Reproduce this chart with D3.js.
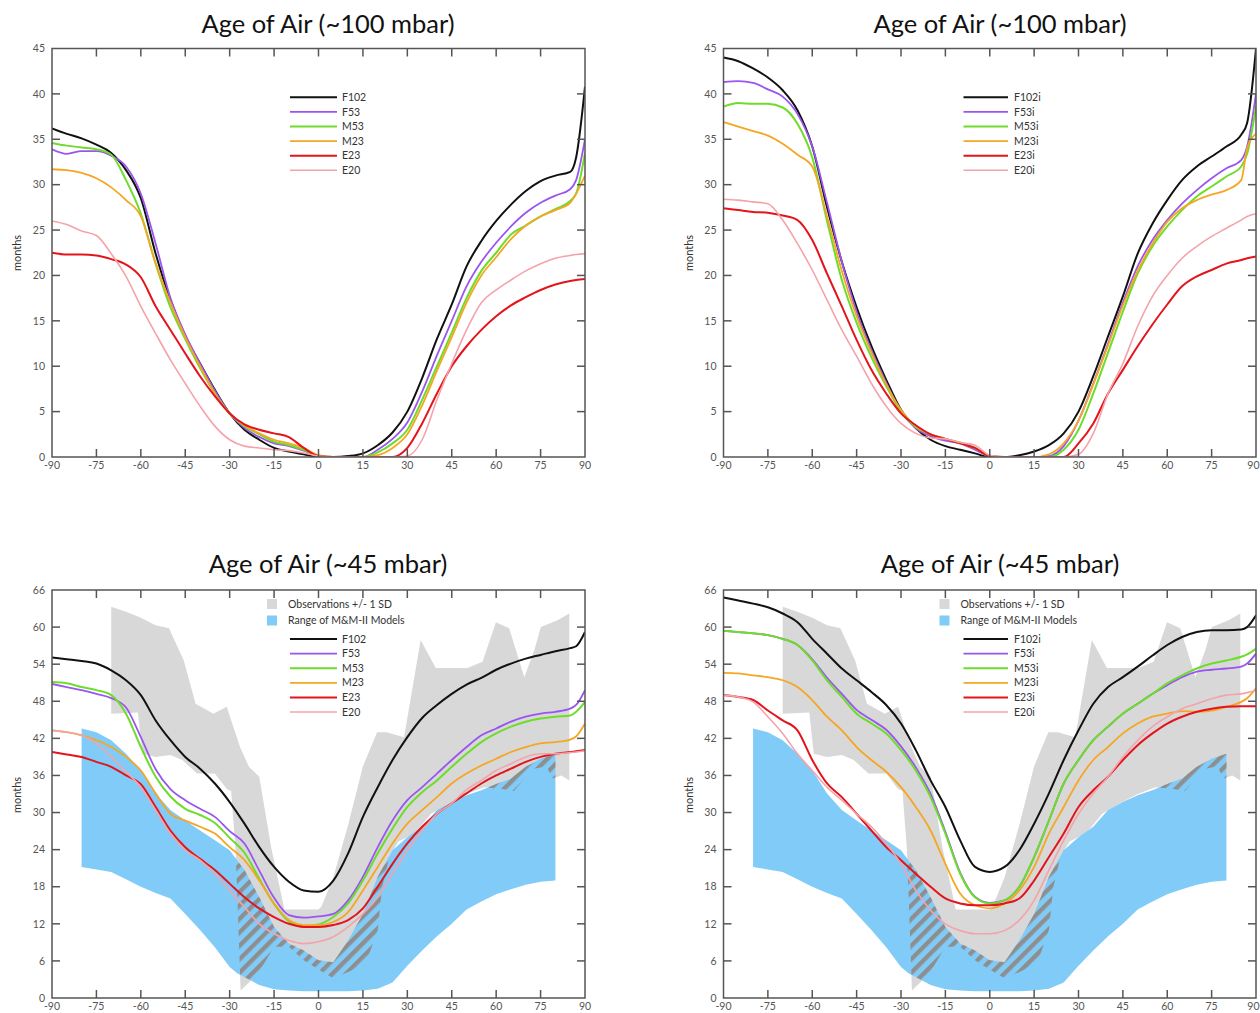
<!DOCTYPE html>
<html><head><meta charset="utf-8">
<script src="https://cdn.jsdelivr.net/npm/d3@7"></script>
<style>body{margin:0;background:#fff} svg{display:block}</style>
</head><body>
<svg id="c" width="1260" height="1013"></svg>
<script>
// ---------- DATA ----------
const lats = [-90,-85,-80,-75,-70,-65,-60,-55,-50,-45,-40,-35,-30,-25,-20,-15,-10,-5,0,5,10,15,20,25,30,35,40,45,50,55,60,65,70,75,80,85,87,90];
const xTicks = [-90,-75,-60,-45,-30,-15,0,15,30,45,60,75,90];
const yTicks100 = [0,5,10,15,20,25,30,35,40,45];
const yTicks45 = [0,6,12,18,24,30,36,42,48,54,60,66];

const namesA = ["F102","F53","M53","M23","E23","E20"];
const namesB = ["F102i","F53i","M53i","M23i","E23i","E20i"];
const titles = ["Age of Air (~100 mbar)","Age of Air (~100 mbar)","Age of Air (~45 mbar)","Age of Air (~45 mbar)"];
const obsLabel = "Observations +/- 1 SD";
const modelLabel = "Range of M&M-II Models";

// Top-left (~100 mbar, standard runs)
const tl_F102 = [36.2,35.6,35.1,34.4,33.5,31.6,28.5,22.4,17.3,13.3,10.3,7.4,4.8,3.0,1.9,1.0,0.6,0.3,0.0,0.0,0.1,0.4,1.3,2.7,5.0,8.7,13.0,16.8,21.0,23.8,26.0,27.8,29.3,30.4,31.0,31.4,33.0,40.8];
const tl_F53  = [33.9,33.4,33.7,33.7,33.2,32.0,29.0,23.5,17.5,13.5,10.3,7.3,4.8,3.2,2.2,1.5,1.2,0.7,0.1,0,0,0,0.8,2.0,3.8,7.2,11.2,15.0,18.8,21.5,23.6,25.4,26.9,28.0,28.8,29.5,30.5,35.0];
const tl_M53  = [34.6,34.3,34.1,33.9,33.3,30.5,26.8,21.3,16.5,13.0,9.8,7.0,4.8,3.4,2.5,1.7,1.3,0.8,0.1,0,0,0,0.5,1.5,3.0,6.3,10.0,13.7,17.5,20.5,22.5,24.5,25.5,26.5,27.3,28.2,29.0,33.5];
const tl_M23  = [31.7,31.6,31.3,30.7,29.7,28.3,26.5,21.3,17.0,13.2,10.0,7.0,4.8,3.5,2.6,1.9,1.5,1.0,0.2,0,0,0,0.2,1.0,2.5,5.7,9.5,13.2,17.0,20.0,22.0,24.0,25.5,26.5,27.2,28.0,29.0,31.0];
const tl_E23  = [22.5,22.3,22.3,22.2,21.8,21.2,19.8,16.6,14.0,11.4,8.9,6.7,4.8,3.6,3.0,2.6,2.2,1.0,0.1,0,0,0,0,0,1.0,3.7,7.0,10.0,12.2,14.0,15.5,16.7,17.6,18.4,19.0,19.4,19.5,19.6];
const tl_E20  = [26.0,25.6,24.9,24.4,22.4,19.9,16.6,13.6,10.7,8.1,5.6,3.4,1.9,1.2,1.0,0.8,0.7,0.45,0.1,0,0,0,0,0,0.1,1.9,6.3,10.3,14.0,17.0,18.4,19.5,20.5,21.3,21.9,22.2,22.3,22.4];

// Top-right (~100 mbar, "i" runs)
const tr_F102 = [44.0,43.6,42.8,41.8,40.4,38.2,34.2,27.5,21.5,16.5,12.2,8.5,5.2,3.2,1.9,1.2,0.8,0.4,0,0,0.2,0.6,1.3,2.6,5.0,8.9,13.3,17.7,22.4,25.7,28.3,30.5,32.0,33.1,34.2,35.5,36.8,45.0];
const tr_F53  = [41.3,41.4,41.2,40.5,39.7,37.8,34.2,28.0,21.5,16.0,11.8,8.2,5.0,3.2,2.3,1.8,1.5,0.8,0.1,0,0,0,0.1,1.2,4.0,8.1,12.5,17.0,21.0,23.9,26.1,27.9,29.4,30.7,31.8,32.7,34.2,40.0];
const tr_M53  = [38.6,39.0,38.9,38.9,38.5,36.7,33.0,26.0,19.5,14.8,11.0,7.8,5.0,3.3,2.5,2.0,1.6,1.0,0.1,0,0,0,0,0.8,3.0,7.0,11.5,16.0,20.2,23.2,25.4,27.2,28.7,29.8,30.9,32.0,33.4,38.6];
const tr_M23  = [36.9,36.4,35.9,35.4,34.5,33.3,32.0,26.5,20.5,15.5,11.5,8.0,5.2,3.4,2.5,2.0,1.5,1.0,0.1,0,0,0,0.3,1.5,4.0,8.0,12.3,16.7,20.5,23.5,25.9,27.4,28.3,28.9,29.4,30.5,34.0,35.6];
const tr_E23  = [27.4,27.2,27.0,26.9,26.6,26.1,23.9,20.2,16.6,12.9,9.6,7.0,4.8,3.5,2.5,2.0,1.5,1.0,0.1,0,0,0,0,0,1.5,3.7,7.0,9.6,12.2,14.6,16.8,18.8,19.9,20.6,21.3,21.7,21.9,22.1];
const tr_E20  = [28.4,28.3,28.1,27.9,26.1,23.5,20.6,17.3,14.0,11.1,8.1,5.6,3.7,2.6,2.1,2.0,1.6,1.3,0.2,0,0,0,0,0,0.3,2.6,7.0,10.3,14.4,17.7,20.0,21.9,23.2,24.3,25.2,26.1,26.5,26.8];

// Bottom-left (~45 mbar, standard runs)
const bl_F102 = [55.1,54.8,54.5,54.1,53.0,51.4,49.0,44.9,41.7,39.0,37.1,34.7,31.7,28.2,24.4,21.2,18.8,17.4,17.2,19.0,23.4,29.3,34.1,38.5,42.2,45.3,47.4,49.2,50.7,51.8,53.1,54.1,54.9,55.5,56.1,56.6,56.9,59.2];
const bl_F53  = [50.8,50.3,49.8,49.2,48.5,47.0,42.2,37.0,33.8,32.0,30.6,29.3,27.0,25.0,20.6,16.2,13.4,13.0,13.2,13.6,15.8,19.6,24.4,28.7,32.0,34.1,36.3,38.5,40.6,42.5,43.6,44.7,45.5,46.0,46.3,46.8,47.4,49.8];
const bl_M53  = [51.1,50.9,50.3,49.8,49.0,46.0,40.6,35.8,32.6,30.6,29.6,28.3,25.9,23.5,19.3,15.2,12.4,11.6,11.9,13.1,15.3,19.0,23.4,27.4,30.9,33.3,35.2,37.4,39.5,41.4,42.8,43.9,44.7,45.2,45.5,45.7,46.3,47.9];
const bl_M23  = [43.3,43.0,42.5,41.7,40.6,39.0,36.8,33.1,29.8,28.7,27.7,26.6,24.4,22.3,19.0,15.3,12.6,11.8,11.8,12.3,13.9,17.4,21.2,25.0,28.2,30.4,32.5,34.7,36.3,37.6,38.7,39.8,40.6,41.2,41.4,41.8,42.3,44.4];
const bl_E23  = [39.8,39.4,39.0,38.2,37.4,36.0,34.6,30.9,27.1,24.4,22.5,20.7,18.5,16.3,14.5,13.1,12.0,11.5,11.5,11.8,12.6,14.5,18.0,21.7,25.0,27.7,29.8,31.5,33.1,34.7,36.0,37.1,38.2,39.0,39.5,39.8,39.9,40.1];
const bl_E20  = [43.3,43.0,42.5,41.2,39.0,36.6,34.1,30.4,26.6,23.9,22.3,20.1,17.4,14.7,12.0,10.4,9.3,8.8,9.1,9.9,11.5,13.6,16.3,20.1,23.9,27.1,29.8,31.5,33.7,35.2,36.8,37.9,39.0,39.5,39.5,39.7,39.8,40.0];

// Bottom-right (~45 mbar, "i" runs)
const br_F102 = [64.8,64.3,63.8,63.2,62.2,60.8,58.1,55.7,53.3,51.4,49.5,47.4,44.4,40.1,35.2,30.9,25.5,21.2,20.4,21.2,23.9,28.2,33.1,38.5,43.3,47.6,50.3,51.9,53.6,55.4,57.1,58.4,59.2,59.5,59.5,59.6,60.0,61.9];
const br_F53  = [59.4,59.2,59.0,58.7,58.1,57.1,54.8,51.8,49.2,46.6,45.0,43.4,40.7,37.3,33.0,26.9,20.3,16.4,15.4,15.8,18.0,22.8,28.7,34.7,38.5,41.7,43.9,46.0,47.6,49.2,50.6,51.9,52.8,53.1,53.3,53.6,54.1,55.7];
const br_M53  = [59.4,59.2,59.0,58.7,58.1,57.1,54.6,51.4,48.7,46.0,44.4,42.8,40.1,36.8,32.5,26.6,20.1,16.3,15.3,15.8,18.0,22.8,28.7,34.7,38.5,41.7,43.9,46.0,47.6,49.2,50.9,52.2,53.3,54.1,54.6,55.2,55.6,56.5];
const br_M23  = [52.6,52.5,52.2,51.9,51.4,50.3,48.2,45.5,43.3,40.6,38.5,36.6,34.1,30.9,27.1,21.7,16.9,15.0,14.5,15.3,17.4,21.2,26.6,30.9,35.2,38.5,40.6,42.8,44.4,45.5,46.0,46.4,46.3,46.5,47.1,47.9,48.5,50.1];
const br_E23  = [49.0,48.7,48.2,46.5,44.9,43.3,38.5,34.7,32.5,29.8,27.1,24.4,22.3,20.1,18.0,16.1,15.3,15.0,15.0,15.3,16.1,19.0,22.8,26.6,30.9,33.6,35.8,38.5,40.9,42.8,44.4,45.5,46.3,46.8,47.1,47.2,47.2,47.2];
const br_E20  = [49.0,48.7,47.9,45.5,42.8,39.5,36.8,34.1,32.0,29.8,27.7,25.0,21.7,17.4,14.2,12.0,10.9,10.4,10.4,10.9,12.6,15.8,20.7,25.5,29.8,33.1,35.8,39.0,41.7,43.9,45.5,46.8,47.6,48.4,49.0,49.2,49.4,49.8];

// Observations +/- 1 SD (45 mbar)
const obsUpperLat = [-70,-65,-60,-55,-50.5,-45.5,-41.5,-35.5,-31,-26.5,-23.5,-20,-16,-11.5,0,1,5,10,15,19.8,23,28.9,34.5,39.6,45,50.3,55.4,59.9,64.4,69.5,72.9,75.1,80.7,84.7];
const obsUpper    = [63.3,62.5,61.5,60.3,59.8,54.6,47.6,46.0,47.1,40.6,37.4,35.8,24.4,14.3,14.3,14.8,19.5,28.0,37.5,43.0,43.0,42.2,57.9,53.4,53.4,53.4,54.4,60.8,59.8,51.9,56.3,60.0,61.1,62.2];
const obsLowerLat = [-70,-61,-59.5,-55,-50,-46,-41,-35,-31,-29.5,-28,-27.3,-26.3,-20.5,-15,-10,-5,0,5,10,16,20,21.5,24,27,32.5,38,44,50,56,62,66,72,77,79,82,84.7];
const obsLower    = [46.0,46.2,39.5,39.0,39.3,38.5,36.3,36.3,33.8,33.5,24.0,15.0,1.2,3.9,8.3,8.3,6.1,4.6,3.2,4.2,5.6,11.0,18.0,23.0,25.3,26.6,29.8,31.5,33.0,34.1,33.8,33.5,37.0,37.5,35.5,36.0,35.2];

// Range of M&M-II models (45 mbar)
const modelLat = [-80,-75,-70,-65,-60,-55,-50,-45,-40,-35,-30,-27.5,-25,-20,-15,-10,-5,0,5,10,15,20,25,30,35,40,45,50,55,60,65,70,75,80];
const modelMax = [43.6,43.0,41.7,39.5,36.8,33.1,30.4,28.7,27.1,25.5,23.9,22.3,20.7,16.3,11.5,8.8,7.7,6.1,5.8,9.3,13.6,19.6,23.9,26.0,27.7,30.4,31.7,32.8,33.6,34.6,35.5,37.4,38.7,39.5];
const modelMin = [21.2,20.8,20.4,19.2,18.0,17.0,16.1,13.6,11.0,8.2,5.0,4.0,3.4,2.1,1.4,1.2,1.1,1.1,1.1,1.1,1.2,1.5,2.5,5.2,7.7,10.0,12.0,14.3,15.6,16.8,17.6,18.3,18.8,19.0];

// ---------- STYLE / LAYOUT ----------
const colors = ["#111111","#9a55f0","#6edc2a","#f5a623","#e3141b","#f4a3aa"];
const widths = [2,1.8,2,1.8,2,1.6];

const panels = [
  {L:52, R:585, T:48.5, B:457, ymax:45, yt:yTicks100, title:titles[0], tx:328, ty:33,
   series:[tl_F102,tl_F53,tl_M53,tl_M23,tl_E23,tl_E20], names:namesA, obs:false,
   leg:{x1:290,x2:337,tx:342,y0:97.3}, ylab:{x:17,y:253}},
  {L:723.5, R:1256, T:48.5, B:457, ymax:45, yt:yTicks100, title:titles[1], tx:1000, ty:33,
   series:[tr_F102,tr_F53,tr_M53,tr_M23,tr_E23,tr_E20], names:namesB, obs:false,
   leg:{x1:963.5,x2:1008,tx:1014,y0:97.3}, ylab:{x:689,y:253}},
  {L:52, R:585, T:590, B:998, ymax:66, yt:yTicks45, title:titles[2], tx:328, ty:573,
   series:[bl_F102,bl_F53,bl_M53,bl_M23,bl_E23,bl_E20], names:namesA, obs:true,
   leg:{x1:290,x2:337,tx:342,y0:639,sqx:267,stx:288,sy0:604,sy1:620.5}, ylab:{x:17,y:795}},
  {L:723.5, R:1256, T:590, B:998, ymax:66, yt:yTicks45, title:titles[3], tx:1000, ty:573,
   series:[br_F102,br_F53,br_M53,br_M23,br_E23,br_E20], names:namesB, obs:true,
   leg:{x1:963.5,x2:1008,tx:1014,y0:639,sqx:939.5,stx:960.5,sy0:604,sy1:620.5}, ylab:{x:689,y:795}}
];

const svg = d3.select("#c");
const defs = svg.append("defs");
const pat = defs.append("pattern").attr("id","hatch").attr("patternUnits","userSpaceOnUse")
  .attr("width",9.5).attr("height",9.5).attr("patternTransform","rotate(45)");
pat.append("rect").attr("x",0).attr("y",0).attr("width",4.3).attr("height",9.5).attr("fill","#8e8e8e");

const FONT = "Lato, 'Open Sans', 'DejaVu Sans', sans-serif";

panels.forEach((p,pi) => {
  const x = d3.scaleLinear().domain([-90,90]).range([p.L,p.R]);
  const y = d3.scaleLinear().domain([0,p.ymax]).range([p.B,p.T]);
  const g = svg.append("g");

  defs.append("clipPath").attr("id","clip"+pi).append("rect")
    .attr("x",p.L).attr("y",p.T).attr("width",p.R-p.L).attr("height",p.B-p.T);

  const plot = g.append("g").attr("clip-path",`url(#clip${pi})`);

  if (p.obs) {
    const poly = (lu, vu, ll, vl) => {
      const pts = lu.map((l,i)=>[x(l),y(vu[i])]);
      for (let i=ll.length-1;i>=0;i--) pts.push([x(ll[i]),y(vl[i])]);
      return "M" + pts.map(d=>d.join(",")).join("L") + "Z";
    };
    const obsPath = poly(obsUpperLat, obsUpper, obsLowerLat, obsLower);
    const modPath = poly(modelLat, modelMax, modelLat, modelMin);
    defs.append("clipPath").attr("id","obsclip"+pi).append("path").attr("d",obsPath);
    plot.append("path").attr("d",obsPath).attr("fill","#d8d8d8");
    plot.append("path").attr("d",modPath).attr("fill","#80cbf7");
    plot.append("path").attr("d",modPath).attr("fill","url(#hatch)")
      .attr("clip-path",`url(#obsclip${pi})`);
  }

  const line = d3.line().x((d,i)=>x(lats[i])).y(d=>y(d)).curve(d3.curveMonotoneX);
  p.series.forEach((s,si) => {
    plot.append("path").attr("d",line(s)).attr("fill","none")
      .attr("stroke",colors[si]).attr("stroke-width",widths[si]).attr("stroke-linejoin","round");
  });

  // frame
  g.append("rect").attr("x",p.L).attr("y",p.T).attr("width",p.R-p.L).attr("height",p.B-p.T)
    .attr("fill","none").attr("stroke","#555").attr("stroke-width",1.5);

  // ticks (inward, all four sides)
  const tk = 8;
  xTicks.forEach(t => {
    if (t===-90 || t===90) return;
    g.append("line").attr("x1",x(t)).attr("x2",x(t)).attr("y1",p.B).attr("y2",p.B-tk).attr("stroke","#555").attr("stroke-width",1.5);
    g.append("line").attr("x1",x(t)).attr("x2",x(t)).attr("y1",p.T).attr("y2",p.T+tk).attr("stroke","#555").attr("stroke-width",1.5);
  });
  p.yt.forEach(t => {
    if (t===0 || t===p.ymax) return;
    g.append("line").attr("x1",p.L).attr("x2",p.L+tk).attr("y1",y(t)).attr("y2",y(t)).attr("stroke","#555").attr("stroke-width",1.5);
    g.append("line").attr("x1",p.R).attr("x2",p.R-tk).attr("y1",y(t)).attr("y2",y(t)).attr("stroke","#555").attr("stroke-width",1.5);
  });

  // tick labels
  xTicks.forEach(t => {
    const xx = x(t);
    const nearEdge = xx + 7 > 1260;
    g.append("text").attr("x", nearEdge ? 1259.5 : xx).attr("y",p.B+12)
      .attr("text-anchor", nearEdge ? "end" : "middle")
      .attr("font-family",FONT).attr("font-size",10.5).attr("fill","#555")
      .text(t<0 ? "-"+Math.abs(t) : String(t));
  });
  p.yt.forEach(t => {
    g.append("text").attr("x",p.L-7).attr("y",y(t)+3.7).attr("text-anchor","end")
      .attr("font-family",FONT).attr("font-size",10.5).attr("fill","#555").text(t);
  });

  // y label
  g.append("text").attr("transform",`translate(${p.ylab.x},${p.ylab.y}) rotate(-90)`)
    .attr("text-anchor","middle").attr("font-family",FONT).attr("font-size",11).attr("fill","#333")
    .attr("dy","0.35em").text("months");

  // title
  g.append("text").attr("x",p.tx).attr("y",p.ty).attr("text-anchor","middle")
    .attr("font-family",FONT).attr("font-size",25.5).attr("fill","#111").text(p.title);

  // legend
  const lg = p.leg;
  if (p.obs) {
    g.append("rect").attr("x",lg.sqx).attr("y",lg.sy0-5).attr("width",10).attr("height",10).attr("fill","#d8d8d8");
    g.append("rect").attr("x",lg.sqx).attr("y",lg.sy1-5).attr("width",10).attr("height",10).attr("fill","#80cbf7");
    g.append("text").attr("x",lg.stx).attr("y",lg.sy0+3.5).attr("font-family",FONT).attr("font-size",10.5).attr("fill","#333").text(obsLabel);
    g.append("text").attr("x",lg.stx).attr("y",lg.sy1+3.5).attr("font-family",FONT).attr("font-size",10.5).attr("fill","#333").text(modelLabel);
  }
  p.names.forEach((n,i) => {
    const yy = lg.y0 + i*14.6;
    g.append("line").attr("x1",lg.x1).attr("x2",lg.x2).attr("y1",yy).attr("y2",yy)
      .attr("stroke",colors[i]).attr("stroke-width",widths[i]);
    g.append("text").attr("x",lg.tx).attr("y",yy+3.6).attr("font-family",FONT).attr("font-size",10.5)
      .attr("fill","#333").text(n);
  });
});
</script>
</body></html>
